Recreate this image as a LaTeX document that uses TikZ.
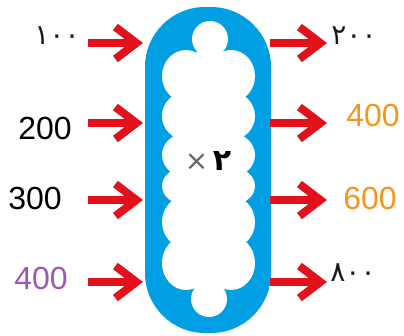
\documentclass[tikz,border=0pt]{standalone}
\usepackage{fontspec}
\setmainfont{Liberation Sans}
\newfontfamily\arabicfont[Script=Arabic]{DejaVu Sans}
\usetikzlibrary{arrows.meta}
\definecolor{capsuleblue}{HTML}{009FE3}
\definecolor{arrowred}{HTML}{E2111B}
\definecolor{numpurple}{HTML}{9B59B6}
\definecolor{numorange}{HTML}{F7941D}

\begin{document}
\begin{tikzpicture}[
  x=1pt, y=-1pt,
  num/.style={font=\fontsize{32}{36}\selectfont, inner sep=0pt},
  fanum/.style={font=\arabicfont\fontsize{28}{32}\selectfont, inner sep=0pt, text=black!90},
  arrow/.style={arrowred, line width=8pt, -{Straight Barb[length=21pt,width=32pt]}}
]
\useasboundingbox (0,0) rectangle (404,335);

% machine body
\node[fill=capsuleblue, rounded corners=60pt, minimum width=126pt, minimum height=326pt, inner sep=0pt] (caps) at (208,170) {};
\fill[white] (210,39) circle (18);
\fill[white] (197,39) rectangle (223,62);
\fill[white] (209,299) circle (18);
\fill[white] (196,278) rectangle (222,299);
\foreach \y/\ry in {76/26,116/24,155/22,186/19,222/26,263/27} {
  \fill[white] (186,\y) ellipse (24 and \ry);
  \fill[white] (231,\y) ellipse (24 and \ry);
}
\fill[white] (184,58) rectangle (233,283);
\node[inner sep=0pt, font=\arabicfont\fontsize{28}{30}\selectfont] (rule) at (208,161)
  {{\color{black!60}×}\,{\fontsize{30}{32}\selectfont\bfseries ۲}};

% inputs
\node[fanum] (in1) at (57,36) {۱۰۰};
\node[num] (in2) at (45,128) {200};
\node[num] (in3) at (35,198) {300};
\node[num, text=numpurple] (in4) at (41,278) {400};

% outputs
\node[fanum] (out1) at (354,36) {۲۰۰};
\node[num, text=numorange] (out2) at (373,115) {400};
\node[num, text=numorange] (out3) at (370,198) {600};
\node[fanum] (out4) at (353,273) {۸۰۰};

\coordinate (a1) at (88,43);  \coordinate (b1) at (143,43);
\coordinate (a2) at (88,123); \coordinate (b2) at (143,123);
\coordinate (a3) at (88,200); \coordinate (b3) at (143,200);
\coordinate (a4) at (88,282); \coordinate (b4) at (143,282);
\coordinate (c1) at (270,43);  \coordinate (d1) at (327,43);
\coordinate (c2) at (270,123); \coordinate (d2) at (327,123);
\coordinate (c3) at (270,200); \coordinate (d3) at (327,200);
\coordinate (c4) at (270,282); \coordinate (d4) at (327,282);

\draw[arrow] (a1) -- (b1);
\draw[arrow] (a2) -- (b2);
\draw[arrow] (a3) -- (b3);
\draw[arrow] (a4) -- (b4);
\draw[arrow] (c1) -- (d1);
\draw[arrow] (c2) -- (d2);
\draw[arrow] (c3) -- (d3);
\draw[arrow] (c4) -- (d4);
\end{tikzpicture}
\end{document}
